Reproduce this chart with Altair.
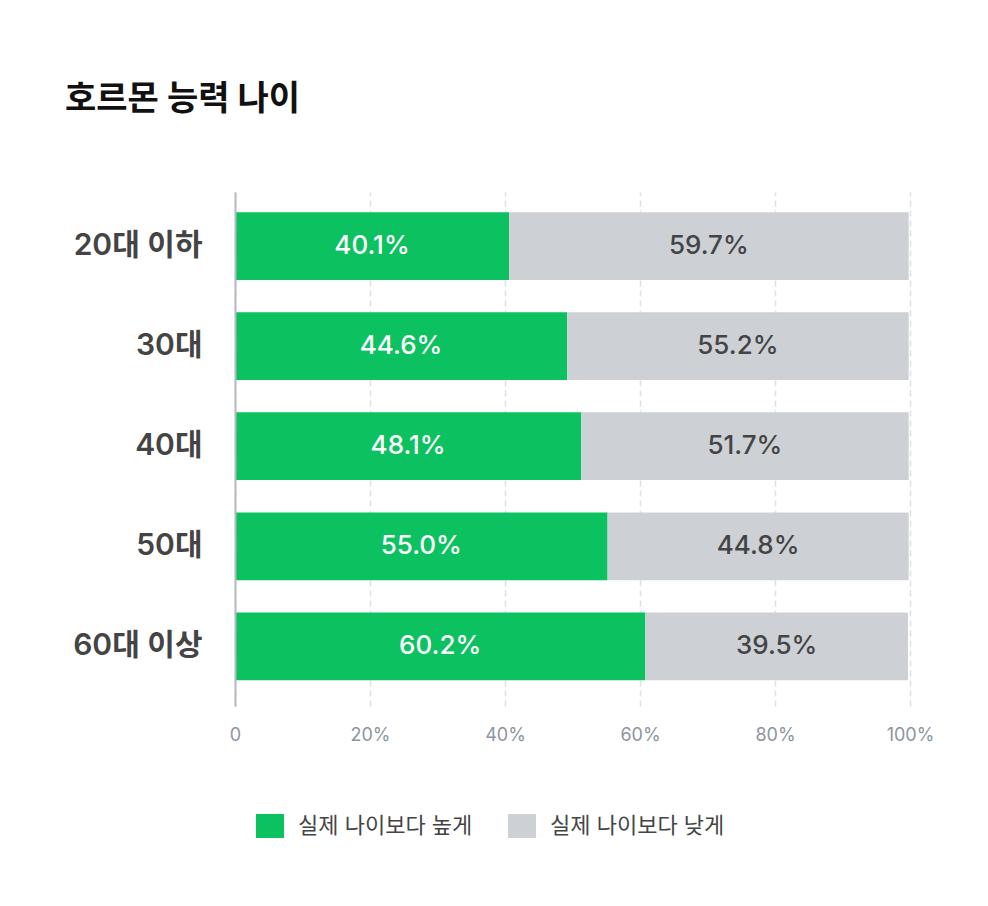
import altair as alt
import pandas as pd

FONT = "Inter, 'Noto Sans CJK KR', sans-serif"

ages = ["20대 이하", "30대", "40대", "50대", "60대 이상"]
series = ["실제 나이보다 높게", "실제 나이보다 낮게"]
# printed percentages
high_label = [40.1, 44.6, 48.1, 55.0, 60.2]
low_label = [59.7, 55.2, 51.7, 44.8, 39.5]
# green bar lengths as drawn in the reference (they differ from the printed values)
high_bar = [40.6, 49.2, 51.3, 55.2, 60.8]

GREEN = "#0cc160"
GRAY = "#cdd1d5"

rows = []
for a, hl, ll, hb in zip(ages, high_label, low_label, high_bar):
    total = round(hl + ll, 1)
    rows.append({"age": a, "series": series[0], "start": 0.0, "end": hb,
                 "label": f"{hl:.1f}%", "tcolor": "#ffffff"})
    rows.append({"age": a, "series": series[1], "start": hb, "end": total,
                 "label": f"{ll:.1f}%", "tcolor": "#444444"})
df = pd.DataFrame(rows)
df["mid"] = (df["start"] + df["end"]) / 2

y_enc = alt.Y(
    "age:N",
    sort=ages,
    scale=alt.Scale(paddingInner=0.323, paddingOuter=0.23, align=0.44),
    axis=alt.Axis(
        title=None, ticks=False, grid=False, domain=True,
        domainColor="#b5b9bf", domainWidth=2,
        labelFontSize=30, labelFontWeight=600, labelColor="#444444",
        labelFont=FONT, labelPadding=33, zindex=1,
    ),
)

x_axis = alt.Axis(
    title=None,
    values=[0, 20, 40, 60, 80, 100],
    labelExpr="datum.value == 0 ? '0' : datum.value + '%'",
    labelFlush=False,
    domain=False, ticks=False,
    grid=True, gridDash=[6, 4], gridColor="#dde0e4", gridWidth=1.5,
    labelFontSize=18, labelColor="#8c959f", labelFont=FONT, labelPadding=20,
)

bars = alt.Chart(df).mark_bar().encode(
    y=y_enc,
    x=alt.X("start:Q", scale=alt.Scale(domain=[0, 100], nice=False), axis=x_axis),
    x2="end:Q",
    color=alt.Color(
        "series:N",
        scale=alt.Scale(domain=series, range=[GREEN, GRAY]),
        sort=series,
        legend=alt.Legend(
            title=None, orient="none", legendX=23, legendY=622,
            direction="horizontal",
            symbolType="M-1.17,-1H1.17V1H-1.17Z", symbolSize=576,
            symbolStrokeWidth=0, symbolOpacity=1,
            labelFontSize=22, labelColor="#444444", labelFont=FONT,
            labelOffset=16, columnPadding=34, padding=0, labelLimit=0,
        ),
    ),
)

labels = alt.Chart(df).mark_text(
    fontSize=26, fontWeight=500, font=FONT, baseline="middle", align="center"
).encode(
    y=alt.Y("age:N", sort=ages),
    x=alt.X("mid:Q"),
    text="label:N",
    color=alt.Color("tcolor:N", scale=None),
)

chart = (
    alt.layer(bars, labels)
    .properties(
        width=675,
        height=514,
        autosize="none",
        padding={"left": 227, "top": 184, "right": 70, "bottom": 180},
        background="#ffffff",
        title=alt.Title(
            "호르몬 능력 나이", anchor="start", frame="group", dx=-170,
            fontSize=34, fontWeight="bold", color="#111111", font=FONT,
            offset=41, baseline="bottom",
        ),
    )
    .configure_view(stroke=None)
)

chart.save("out.html", embed_options={"renderer": "svg", "actions": False})
